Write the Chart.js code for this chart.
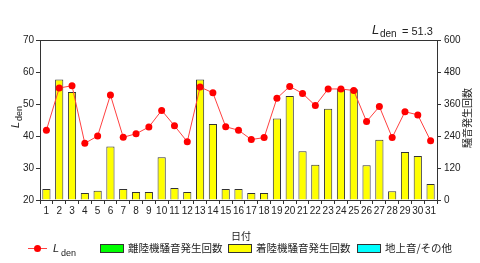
<!DOCTYPE html>
<html><head><meta charset="utf-8">
<script src="https://cdn.jsdelivr.net/npm/chart.js@4/dist/chart.umd.min.js"></script>
<style>html,body{margin:0;padding:0;background:#fff;}canvas{display:block;}</style>
</head><body>
<canvas id="c" width="480" height="263"></canvas>
<script>
const days = ['1','2','3','4','5','6','7','8','9','10','11','12','13','14','15','16','17','18','19','20','21','22','23','24','25','26','27','28','29','30','31'];
const lden = [41.8,55.0,55.7,37.7,40.0,52.8,39.6,40.7,42.8,48.0,43.2,38.2,55.3,53.5,42.9,41.8,38.9,39.5,51.8,55.5,53.3,49.5,54.7,54.7,54.2,44.5,49.2,39.5,47.6,46.6,38.5];
const departures = [2,0,0,0,0,0,0,2,0,0,2,0,0,0,0,0,0,0,0,0,0,0,0,0,0,0,0,0,0,0,0];
const arrivals = [39,452,405,26,35,201,41,28,30,160,43,30,452,285,41,41,26,26,306,390,183,132,342,416,415,130,226,33,180,165,60];
const ground = [0,0,0,0,0,0,0,0,0,0,0,0,0,0,0,0,0,0,0,0,0,0,0,0,0,0,0,0,0,0,0];
const leftTicks = {min:20, max:70, step:10};
const rightTicks = {min:0, max:600, step:120};
const ldenAvg = '51.3';

const AX = '#333333';
const TXT = '#222222';
const NUMFONT = "'Liberation Sans', Arial, sans-serif";
const JPFONT = "'Noto Sans CJK JP', sans-serif";

const bw = ctx => (ctx.raw ? 1 : 0);

const deco = {
  id: 'deco',
  afterDraw(chart) {
    const ctx = chart.ctx, ca = chart.chartArea;
    ctx.save();
    // top frame
    ctx.strokeStyle = AX; ctx.lineWidth = 1;
    ctx.beginPath(); ctx.moveTo(ca.left, Math.round(ca.top) + 0.5); ctx.lineTo(ca.right, Math.round(ca.top) + 0.5); ctx.stroke();
    ctx.fillStyle = TXT;
    ctx.textBaseline = 'alphabetic';
    // Lden = value (top right)
    ctx.textAlign = 'left';
    ctx.font = "italic 13px " + NUMFONT; ctx.fillText('L', 372, 34);
    ctx.font = "10px " + NUMFONT; ctx.fillText('den', 380, 37);
    ctx.font = "11px " + NUMFONT; ctx.fillText('= ' + ldenAvg, 402, 35);
    // left axis title
    ctx.save();
    ctx.translate(19, 128); ctx.rotate(-Math.PI / 2);
    ctx.font = "italic 11px " + NUMFONT; ctx.fillText('L', 0, 0);
    ctx.font = "9px " + NUMFONT; ctx.fillText('den', 7, 3);
    ctx.restore();
    // right axis title
    ctx.save();
    ctx.translate(467, 118); ctx.rotate(-Math.PI / 2);
    ctx.textAlign = 'center'; ctx.textBaseline = 'middle';
    ctx.font = "10px " + JPFONT; ctx.fillText('騒音発生回数', 0, 0);
    ctx.restore();
    // x title
    ctx.textAlign = 'center'; ctx.textBaseline = 'middle';
    ctx.font = "10px " + JPFONT; ctx.fillText('日付', 241, 236);
    // legend
    const ly = 248;
    ctx.strokeStyle = '#ff4040'; ctx.lineWidth = 1;
    ctx.beginPath(); ctx.moveTo(28, ly + 0.5); ctx.lineTo(47, ly + 0.5); ctx.stroke();
    ctx.fillStyle = '#ff0000';
    ctx.beginPath(); ctx.arc(37.5, ly + 0.5, 3.5, 0, Math.PI * 2); ctx.fill();
    ctx.fillStyle = TXT; ctx.textAlign = 'left'; ctx.textBaseline = 'alphabetic';
    ctx.font = "italic 11px " + NUMFONT; ctx.fillText('L', 53, 252);
    ctx.font = "9px " + NUMFONT; ctx.fillText('den', 61, 256);
    const boxes = [
      {x:100, c:'#00ff00', t:'離陸機騒音発生回数', tx:128},
      {x:228, c:'#ffff00', t:'着陸機騒音発生回数', tx:256},
      {x:357, c:'#00ffff', t:'地上音/その他', tx:385}
    ];
    boxes.forEach(b => {
      ctx.fillStyle = b.c; ctx.fillRect(b.x, 244, 24, 8);
      ctx.strokeStyle = AX; ctx.strokeRect(b.x + 0.5, 244.5, 23, 8);
      ctx.fillStyle = TXT; ctx.textBaseline = 'middle';
      ctx.font = "10.5px " + JPFONT; ctx.fillText(b.t, b.tx, 248.5);
    });
    ctx.restore();
  }
};

new Chart(document.getElementById('c'), {
  data: {
    labels: days,
    datasets: [
      {type:'line', label:'Lden', data:lden, yAxisID:'y', order:0,
       borderColor:'#ff4040', borderWidth:1, pointRadius:3.5, pointHoverRadius:3.5,
       pointBackgroundColor:'#ff0000', pointBorderWidth:0, tension:0},
      {type:'bar', label:'離陸機騒音発生回数', data:departures, yAxisID:'y1', order:1,
       backgroundColor:'#00ff00', borderColor:AX, borderWidth:bw, barPercentage:0.64, categoryPercentage:1},
      {type:'bar', label:'着陸機騒音発生回数', data:arrivals, yAxisID:'y1', order:1,
       backgroundColor:'#ffff00', borderColor:AX, borderWidth:bw, barPercentage:0.64, categoryPercentage:1},
      {type:'bar', label:'地上音/その他', data:ground, yAxisID:'y1', order:1,
       backgroundColor:'#00ffff', borderColor:AX, borderWidth:bw, barPercentage:0.64, categoryPercentage:1}
    ]
  },
  options: {
    responsive:false, animation:false, devicePixelRatio:1,
    layout:{padding:{top:40, left:0, right:0, bottom:0}},
    plugins:{legend:{display:false}, tooltip:{enabled:false}, title:{display:false}},
    scales:{
      x:{stacked:true, offset:true,
         grid:{display:true, drawOnChartArea:false, drawTicks:true, tickLength:4, color:AX, offset:true},
         border:{display:true, color:AX},
         ticks:{font:{family:NUMFONT, size:10}, color:TXT, maxRotation:0, autoSkip:false, padding:1},
         afterFit(s){ s.height = 63; }},
      y:{position:'left', min:leftTicks.min, max:leftTicks.max,
         grid:{display:true, drawOnChartArea:false, tickLength:4, color:AX},
         border:{display:true, color:AX},
         ticks:{stepSize:leftTicks.step, font:{family:NUMFONT, size:10}, color:TXT, padding:2},
         afterFit(s){ s.width = 40; }},
      y1:{position:'right', stacked:true, min:rightTicks.min, max:rightTicks.max,
         grid:{display:true, drawOnChartArea:false, tickLength:4, color:AX},
         border:{display:true, color:AX},
         ticks:{stepSize:rightTicks.step, font:{family:NUMFONT, size:10}, color:TXT, padding:3},
         afterFit(s){ s.width = 43; }}
    }
  },
  plugins:[deco]
});
</script>
</body></html>
